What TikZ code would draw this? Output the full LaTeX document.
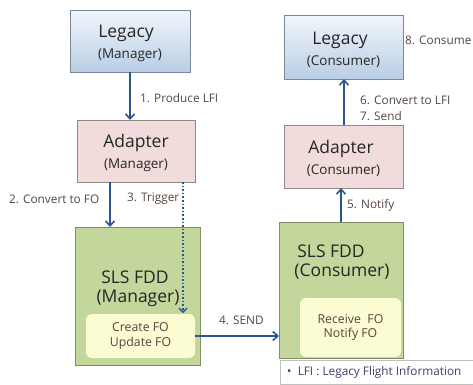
\documentclass[tikz,border=0pt]{standalone}
\usepackage{fontspec}
\setmainfont{Open Sans}
\usetikzlibrary{arrows.meta}

\definecolor{flowblue}{HTML}{2B5592}
\definecolor{labeltext}{HTML}{54463E}
\definecolor{boxtext}{HTML}{262626}
\definecolor{legacytop}{HTML}{F2F6FB}
\definecolor{legacybot}{HTML}{B9CDE5}
\definecolor{legacyedge}{HTML}{7C8796}
\definecolor{adapterfill}{HTML}{F2DCDB}
\definecolor{adapteredge}{HTML}{8E8A8A}
\definecolor{fddfill}{HTML}{C3D69B}
\definecolor{fddedge}{HTML}{7E8E66}
\definecolor{innerfill}{HTML}{FCFCD2}
\definecolor{legendtext}{HTML}{4A3A6A}

\tikzset{
  legacybox/.style={draw=legacyedge, line width=1pt, top color=legacytop, bottom color=legacybot,
    minimum width=#1, align=center, text=boxtext, inner sep=0pt},
  adapterbox/.style={draw=adapteredge, line width=1pt, fill=adapterfill,
    minimum width=#1, align=center, text=boxtext, inner sep=0pt},
  fddbox/.style={draw=fddedge, line width=1pt, fill=fddfill, inner sep=0pt},
  innerbox/.style={fill=innerfill, rounded corners=6pt, inner sep=0pt, align=center,
    text=labeltext, font=\fontsize{12.3}{14.5}\selectfont},
  bigtext/.style={font=\fontsize{17.5}{20}\selectfont, text=boxtext, inner sep=0pt},
  smalltext/.style={font=\fontsize{13.5}{16}\selectfont, text=boxtext, inner sep=0pt},
  steplabel/.style={font=\fontsize{11.8}{14}\selectfont, text=labeltext, inner sep=0pt, align=left},
  flow/.style={draw=flowblue, line width=1.8pt, -{Straight Barb[length=5pt,width=9pt,line width=1.6pt]}},
  trigger/.style={draw=flowblue, line width=1.6pt, dotted, -{Straight Barb[length=4pt,width=8pt,line width=1.4pt]}},
}

\begin{document}
\begin{tikzpicture}[x=1pt, y=-1pt]
\useasboundingbox (0,0) rectangle (473,384);

% Manager side
\node[legacybox=120pt, minimum height=62pt] (legM) at (130,41) {};
\node[bigtext] (legMa) at (126,33) {Legacy};
\node[smalltext] (legMb) at (130,55) {(Manager)};

\node[adapterbox=118pt, minimum height=62pt, fill=adapterfill] (adM) at (136,151) {};
\node[bigtext] (adMa) at (136,143) {Adapter};
\node[smalltext] (adMb) at (136,165) {(Manager)};

\node[fddbox, minimum width=125pt, minimum height=138pt] (fddM) at (138,296) {};
\node[bigtext] (fddMa) at (135,277) {SLS FDD};
\node[bigtext] (fddMb) at (138,298) {(Manager)};
\node[innerbox, minimum width=109pt, minimum height=44pt] (inM) at (140.5,336) {Create FO\\Update FO};

% Consumer side
\node[legacybox=119pt, minimum height=64pt] (legC) at (343.5,47) {};
\node[bigtext] (legCa) at (340,40) {Legacy};
\node[smalltext] (legCb) at (343.5,62) {(Consumer)};

\node[adapterbox=119pt, minimum height=63pt] (adC) at (343.5,156.5) {};
\node[bigtext] (adCa) at (341,149) {Adapter};
\node[smalltext] (adCb) at (343.5,171) {(Consumer)};

\node[fddbox, minimum width=124pt, minimum height=136pt] (fddC) at (341,290) {};
\node[bigtext] (fddCa) at (331,251) {SLS FDD};
\node[bigtext] (fddCb) at (342,272) {(Consumer)};
\node[innerbox, minimum width=101pt, minimum height=59pt] (inC) at (350.5,327.5) {Receive\ \ FO\\Notify FO};

% Legend
\node[draw=black!25, fill=white, minimum width=193pt, minimum height=24pt, inner sep=0pt] (legend) at (376.5,372.5) {};
\node[font=\fontsize{11.8}{13}\selectfont, text=legendtext, anchor=west, inner sep=0pt] (legendtxt) at (287,372) {\textbullet\ \ LFI : Legacy Flight Information};

% Flow coordinates
\coordinate (a1) at (130,72);  \coordinate (b1) at (130,120);
\coordinate (a2) at (110,182); \coordinate (b2) at (110,227);
\coordinate (a3) at (183,182); \coordinate (b3) at (183,313);
\coordinate (a4) at (195,336); \coordinate (b4) at (279,336);
\coordinate (a5) at (341,222); \coordinate (b5) at (341,188);
\coordinate (a6) at (344,125); \coordinate (b6) at (344,79);

\draw[flow] (a1) -- (b1);
\draw[flow] (a2) -- (b2);
\draw[trigger] (a3) -- (b3);
\draw[flow] (a4) -- (b4);
\draw[flow] (a5) -- (b5);
\draw[flow] (a6) -- (b6);

% Step labels
\node[steplabel, anchor=west] (s1) at (140,98) {1. Produce LFI};
\node[steplabel, anchor=west] (s2) at (9,199) {2. Convert to FO};
\node[steplabel, anchor=west] (s3) at (127,199) {3. Trigger};
\node[steplabel, anchor=west] (s4) at (219,320) {4. SEND};
\node[steplabel, anchor=west] (s5) at (347,205) {5. Notify};
\node[steplabel, anchor=west] (s6) at (360,100) {6. Convert to LFI};
\node[steplabel, anchor=west] (s7) at (360,116) {7. Send};
\node[steplabel, anchor=west] (s8) at (405,40) {8. Consume};
\end{tikzpicture}
\end{document}
